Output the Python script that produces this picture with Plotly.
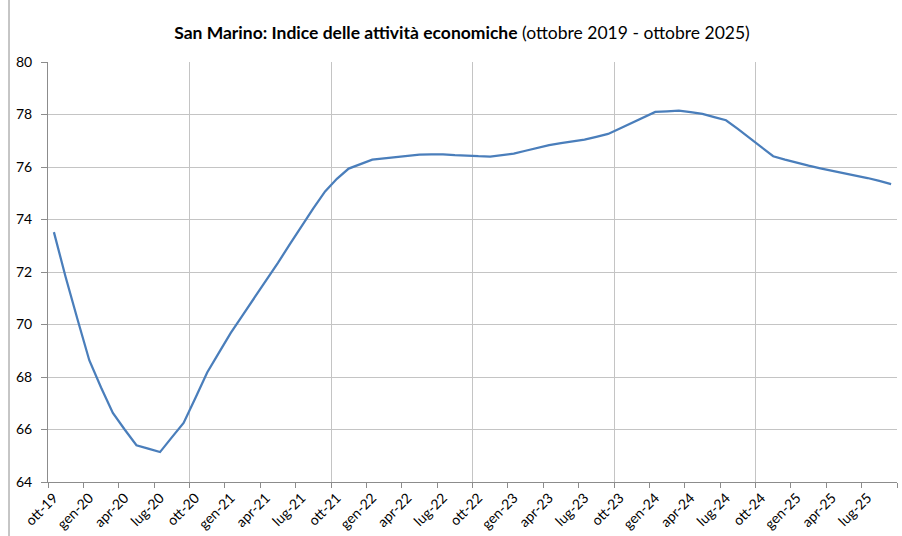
import plotly.graph_objects as go

mesi = ["gen", "feb", "mar", "apr", "mag", "giu", "lug", "ago", "set", "ott", "nov", "dic"]
# monthly categories: ott-19 ... set-25
categories = []
m, y = 9, 19
for _ in range(72):
    categories.append(f"{mesi[m]}-{y:02d}")
    m += 1
    if m == 12:
        m, y = 0, y + 1

values = [
    73.52, 71.8, 70.2, 68.64, 67.6, 66.63, 66.0, 65.40, 65.27, 65.14, 65.7, 66.25,
    67.2, 68.17, 68.93, 69.68, 70.35, 71.0, 71.68, 72.35, 73.05, 73.75, 74.42, 75.07,
    75.55, 75.94, 76.12, 76.28, 76.33, 76.38, 76.42, 76.47, 76.48, 76.48, 76.45, 76.42,
    76.41, 76.40, 76.45, 76.51, 76.62, 76.74, 76.83, 76.91, 76.97, 77.04, 77.15, 77.26,
    77.47, 77.68, 77.9, 78.10, 78.12, 78.15, 78.09, 78.02, 77.9, 77.78, 77.45, 77.1,
    76.75, 76.41, 76.28, 76.15, 76.05, 75.95, 75.86, 75.78, 75.68, 75.58, 75.47, 75.35,
]

tick_labels = categories[::3]
y_ticks = [64, 66, 68, 70, 72, 74, 76, 78, 80]

FONT = "Lato"
GRID = "#c4c4c4"
AXIS = "#8c8c8c"

fig = go.Figure()
fig.add_trace(go.Scatter(
    x=categories, y=values, mode="lines",
    line=dict(color="#4a7ebb", width=2.25),
    hoverinfo="x+y", showlegend=False,
))
# helper invisible trace to activate overlay axis for boundary ticks / yearly grid
fig.add_trace(go.Scatter(
    x=[-0.5, len(categories) - 0.5], y=[y_ticks[0], y_ticks[0]], xaxis="x2",
    mode="lines", line=dict(width=0), hoverinfo="skip", showlegend=False,
))

fig.update_layout(
    width=902, height=536,
    margin=dict(l=48, r=5, t=62, b=54, autoexpand=False),
    paper_bgcolor="white", plot_bgcolor="white",
    font=dict(family=FONT, size=14, color="#000000"),
    title=dict(
        text="<b>San Marino: Indice delle attività economiche</b> (ottobre 2019 - ottobre 2025)",
        x=0.4876, xanchor="center", xref="paper", y=0.938, yanchor="middle",
        font=dict(family=FONT, size=17.5, color="#000000"),
    ),
    xaxis=dict(
        type="category", categoryorder="array", categoryarray=categories,
        range=[-0.5, len(categories) - 0.5], automargin=False,
        tickmode="array", tickvals=tick_labels, ticktext=tick_labels,
        tickangle=-45, ticks="", showgrid=False, showline=False, zeroline=False,
        ticklabelstandoff=4,
        tickfont=dict(family=FONT, size=14, color="#000000"),
    ),
    xaxis2=dict(
        overlaying="x", anchor="y", side="bottom", automargin=False,
        range=[-0.5, len(categories) - 0.5],
        tickmode="linear", tick0=-0.5, dtick=12,
        showticklabels=False, showgrid=True, gridcolor=GRID, gridwidth=1,
        ticks="outside", ticklen=5, tickcolor=AXIS,
        minor=dict(tick0=-0.5, dtick=3, ticks="outside", ticklen=5, tickcolor=AXIS, showgrid=False),
        showline=True, linecolor=AXIS, linewidth=1, zeroline=False,
    ),
    yaxis=dict(
        range=[64, 80], tickmode="array", tickvals=y_ticks, automargin=False,
        showgrid=True, gridcolor=GRID, gridwidth=1,
        showline=True, linecolor=AXIS, linewidth=1,
        ticks="outside", ticklen=6, tickcolor=AXIS, zeroline=False,
        ticklabelstandoff=6,
        tickfont=dict(family=FONT, size=14, color="#000000"),
    ),
    shapes=[dict(
        type="line", xref="paper", yref="paper",
        x0=-39 / 849, x1=-39 / 849, y0=-54 / 420, y1=1 + 62 / 420,
        line=dict(color=AXIS, width=1),
    )],
)

fig.write_html(
    "out.html",
    config={"displayModeBar": False},
    post_script="document.body.style.margin='0';document.body.style.overflow='hidden';",
)
